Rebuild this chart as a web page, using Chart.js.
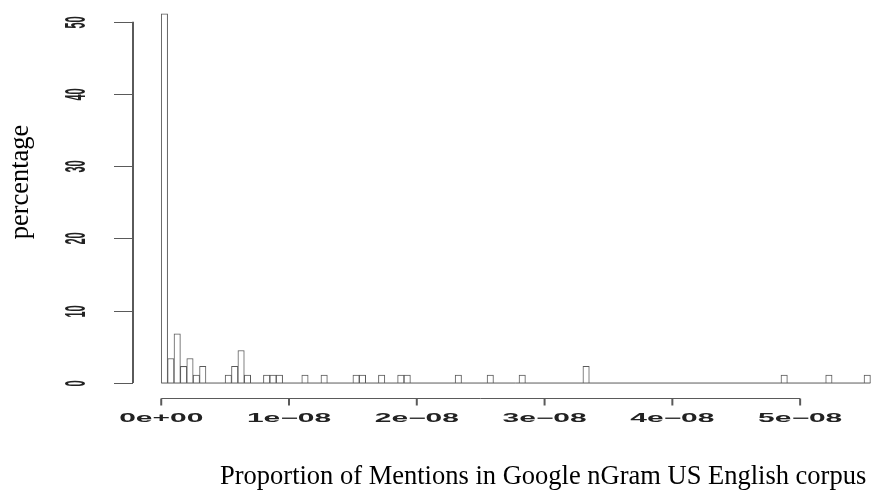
<!DOCTYPE html>
<html>
<head>
<meta charset="utf-8">
<script src="https://cdn.jsdelivr.net/npm/chart.js@4.4.1/dist/chart.umd.min.js"></script>
<style>
  html, body { margin: 0; padding: 0; background: #fff; }
  #wrap { width: 874px; height: 502px; position: relative; }
</style>
</head>
<body>
<div id="wrap"><canvas id="hist"></canvas></div>
<script>
// histogram bins (left edge, in units of 1e-8) and percentage per bin
const binWidth = 0.05;
const binLeft = [0, 0.05, 0.10, 0.15, 0.20, 0.25, 0.30,
  0.50, 0.55, 0.60, 0.65, 0.80, 0.85, 0.90, 1.10, 1.25, 1.50, 1.55,
  1.70, 1.85, 1.90, 2.30, 2.55, 2.80, 3.30, 4.85, 5.20, 5.50];
const percent = [51.1, 3.4, 6.8, 2.3, 3.4, 1.1, 2.3,
  1.1, 2.3, 4.5, 1.1, 1.1, 1.1, 1.1, 1.1, 1.1, 1.1, 1.1,
  1.1, 1.1, 1.1, 1.1, 1.1, 1.1, 2.3, 1.1, 1.1, 1.1];
const histRange = [0, 5.55];

const xTicks = [0, 1, 2, 3, 4, 5];
const xTickLabels = ["0e+00", "1e\u221208", "2e\u221208", "3e\u221208", "4e\u221208", "5e\u221208"];
const yTicks = [0, 10, 20, 30, 40, 50];

const xLabel = "Proportion of Mentions in Google nGram US English corpus";
const yLabel = "percentage";

const lineCol = "#5a5a5a";
const stretch = 2.6; // the picture is wide-stretched, tick text too

const bars = binLeft.map((l, i) => ({ x: (l + binWidth / 2) * 1e-8, y: percent[i] }));

const rAxes = {
  id: "rAxes",
  afterDraw(chart) {
    const c = chart.ctx;
    const xs = chart.scales.x, ys = chart.scales.y;
    const area = chart.chartArea;
    c.save();
    c.strokeStyle = lineCol;

    // y axis
    const ax = area.left + 1;
    c.lineWidth = 2;
    c.beginPath();
    c.moveTo(ax, ys.getPixelForValue(yTicks[0]));
    c.lineTo(ax, ys.getPixelForValue(yTicks[yTicks.length - 1]));
    c.stroke();
    c.lineWidth = 1;
    yTicks.forEach(t => {
      const py = Math.round(ys.getPixelForValue(t)) + 0.5;
      c.beginPath();
      c.moveTo(ax, py);
      c.lineTo(ax - 19, py);
      c.stroke();
      c.save();
      c.translate(85, py);
      c.scale(stretch, 1);
      c.rotate(-Math.PI / 2);
      c.fillStyle = "#222";
      c.font = "bold 11px 'Liberation Sans', Arial, sans-serif";
      c.textAlign = "center";
      c.textBaseline = "alphabetic";
      c.fillText(String(t), 0, 0);
      c.restore();
    });

    // x axis, drawn below the plot as in R
    const ay = Math.round(area.bottom) + 0.5;
    c.lineWidth = 1;
    c.beginPath();
    c.moveTo(xs.getPixelForValue(xTicks[0] * 1e-8), ay);
    c.lineTo(xs.getPixelForValue(xTicks[xTicks.length - 1] * 1e-8), ay);
    c.stroke();
    c.lineWidth = 2;
    xTicks.forEach((t, i) => {
      const px = xs.getPixelForValue(t * 1e-8);
      c.beginPath();
      c.moveTo(px, ay);
      c.lineTo(px, ay + 7);
      c.stroke();
      c.save();
      c.translate(px, 422);
      c.scale(stretch * 0.96, 1);
      c.fillStyle = "#222";
      c.font = "bold 12px 'Liberation Sans', Arial, sans-serif";
      c.textAlign = "center";
      c.textBaseline = "alphabetic";
      c.fillText(xTickLabels[i], 0, 0);
      c.restore();
    });

    // axis titles
    c.fillStyle = "#000";
    c.font = "26.5px 'Liberation Serif', 'Times New Roman', serif";
    c.textAlign = "left";
    c.textBaseline = "alphabetic";
    c.fillText(xLabel, 220, 484);

    c.save();
    c.translate(28, 182);
    c.rotate(-Math.PI / 2);
    c.textAlign = "center";
    c.fillText(yLabel, 0, 0);
    c.restore();

    c.restore();
  }
};

new Chart(document.getElementById("hist"), {
  type: "bar",
  data: {
    datasets: [{
      type: "bar",
      data: bars,
      backgroundColor: "#fff",
      borderColor: lineCol,
      borderWidth: { left: 1, right: 1, top: 1, bottom: 0 },
      barPercentage: 1,
      categoryPercentage: 1,
      order: 1
    }, {
      type: "line",
      data: [{ x: histRange[0] * 1e-8, y: 0 }, { x: histRange[1] * 1e-8, y: 0 }],
      borderColor: lineCol,
      borderWidth: 1,
      pointRadius: 0,
      order: 0
    }]
  },
  options: {
    responsive: true,
    maintainAspectRatio: false,
    animation: false,
    layout: { padding: { left: 132, right: 0, top: 0, bottom: 104 } },
    scales: {
      x: { type: "linear", offset: false, min: -0.2287e-8, max: 5.578e-8, display: false },
      y: { type: "linear", min: -2.07, max: 53.0, display: false }
    },
    plugins: { legend: { display: false }, tooltip: { enabled: false } }
  },
  plugins: [rAxes]
});
</script>
</body>
</html>
